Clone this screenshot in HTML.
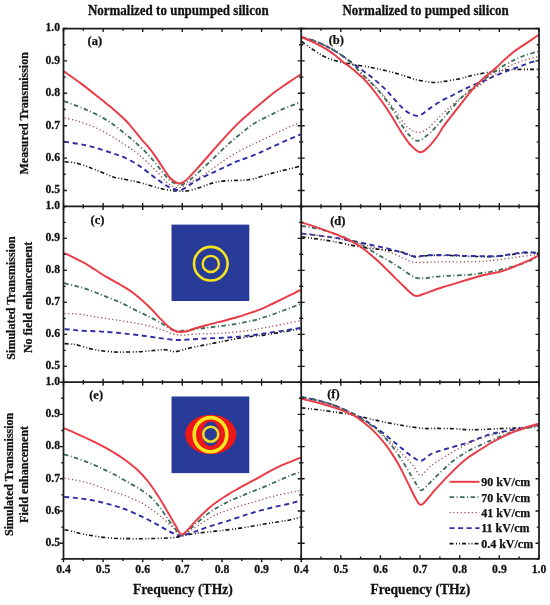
<!DOCTYPE html><html><head><meta charset="utf-8"><style>html,body{margin:0;padding:0;background:#fff;width:550px;height:605px;overflow:hidden}svg{display:block;filter:blur(0.45px)}text{font-family:"Liberation Serif",serif;font-weight:bold;fill:#111;stroke:#111;stroke-width:0.25px}</style></head><body>
<svg width="550" height="605" viewBox="0 0 550 605">
<defs>
<clipPath id="cpa"><rect x="63.5" y="28.5" width="237.7" height="177.9"/></clipPath>
<clipPath id="cpb"><rect x="301.2" y="28.5" width="237.8" height="177.9"/></clipPath>
<clipPath id="cpc"><rect x="63.5" y="206.4" width="237.7" height="175.79999999999998"/></clipPath>
<clipPath id="cpd"><rect x="301.2" y="206.4" width="237.8" height="175.79999999999998"/></clipPath>
<clipPath id="cpe"><rect x="63.5" y="382.2" width="237.7" height="176.59999999999997"/></clipPath>
<clipPath id="cpf"><rect x="301.2" y="382.2" width="237.8" height="176.59999999999997"/></clipPath>
</defs>
<rect x="171.5" y="224.6" width="77.8" height="76.4" fill="#283b98"/>
<circle cx="210.8" cy="263.7" r="16.8" fill="none" stroke="#f6e41e" stroke-width="2.6"/>
<circle cx="210.8" cy="263.9" r="8.1" fill="none" stroke="#f6e41e" stroke-width="2.3"/>
<rect x="171.5" y="396.5" width="77.8" height="76.6" fill="#283b98"/>
<ellipse cx="210.75" cy="434.5" rx="25.6" ry="19.7" fill="#ef1818"/>
<ellipse cx="210.5" cy="434.7" rx="16.3" ry="17.1" fill="none" stroke="#f8e61e" stroke-width="3.6"/>
<path d="M197.5,446 Q210.5,456.5 223.5,446" fill="none" stroke="#f8e61e" stroke-width="2.2"/>
<ellipse cx="210.7" cy="433.8" rx="8.6" ry="12.2" fill="#2b3a98"/>
<circle cx="210.7" cy="434.2" r="7.5" fill="none" stroke="#eee026" stroke-width="2.5"/>
<g clip-path="url(#cpa)" fill="none" stroke-linejoin="round">
<path d="M64.6,161.8 C66.3,162.0 71.5,162.1 75.1,162.9 C78.7,163.6 82.7,165.1 86.0,166.2 C89.3,167.3 90.2,167.8 94.7,169.5 C99.2,171.3 108.7,175.3 113.2,176.9 C117.8,178.4 118.2,178.0 122.0,178.8 C125.8,179.6 131.6,180.6 136.2,181.7 C140.8,182.7 144.8,184.1 149.3,185.3 C153.8,186.6 158.9,188.2 163.4,189.2 C167.9,190.1 172.3,190.8 176.5,191.0 C180.7,191.3 184.2,191.4 188.3,190.7 C192.5,190.0 197.2,188.2 201.4,186.9 C205.6,185.6 209.4,183.8 213.4,182.8 C217.4,181.7 220.2,181.3 225.3,180.9 C230.4,180.4 239.2,180.5 243.9,180.2 C248.6,179.8 249.8,179.6 253.6,178.7 C257.4,177.8 262.4,175.9 266.8,174.7 C271.2,173.4 275.7,172.3 279.9,171.2 C284.1,170.2 288.5,169.2 291.9,168.3 C295.3,167.4 299.1,166.4 300.5,166.0" stroke="#111111" stroke-width="1.6" stroke-dasharray="4 2.5 1 2 1 2"/>
<path d="M64.2,141.6 C66.6,142.0 74.6,143.2 78.4,143.9 C82.2,144.5 84.2,144.9 87.1,145.5 C90.0,146.2 92.7,146.8 95.8,147.7 C98.9,148.6 102.3,149.8 105.6,150.9 C108.9,152.0 112.3,153.1 115.4,154.2 C118.5,155.2 120.9,155.8 124.2,157.3 C127.5,158.8 131.8,161.2 135.1,163.1 C138.4,165.1 140.9,167.0 143.8,169.1 C146.7,171.2 149.8,173.8 152.5,175.8 C155.2,177.9 157.6,179.7 160.2,181.4 C162.8,183.2 165.1,185.0 167.8,186.4 C170.5,187.8 174.1,189.3 176.5,189.8 C178.9,190.3 179.8,190.4 182.0,189.6 C184.2,188.8 186.7,186.7 189.4,185.1 C192.1,183.4 194.3,181.8 198.1,179.7 C201.9,177.7 207.8,175.0 212.3,172.9 C216.8,170.7 221.1,168.8 225.3,166.8 C229.5,164.9 234.0,162.6 237.3,161.2 C240.6,159.8 241.5,159.8 245.0,158.5 C248.5,157.2 253.6,155.3 258.1,153.4 C262.7,151.4 267.2,149.1 272.3,146.8 C277.4,144.5 283.9,141.6 288.6,139.5 C293.3,137.5 298.5,135.3 300.5,134.5" stroke="#2e2ea6" stroke-width="1.9" stroke-dasharray="5 3.6"/>
<path d="M64.6,118.0 C66.5,118.4 72.5,119.6 76.2,120.7 C80.0,121.7 83.5,122.9 87.1,124.3 C90.7,125.6 94.4,127.1 98.0,128.8 C101.6,130.5 105.3,132.5 108.9,134.6 C112.5,136.7 115.4,138.5 119.8,141.3 C124.2,144.2 130.9,148.7 135.1,151.8 C139.3,154.9 142.0,157.3 144.9,159.9 C147.8,162.5 150.1,164.9 152.5,167.3 C154.9,169.6 156.9,171.7 159.1,174.0 C161.3,176.3 163.4,179.0 165.6,181.0 C167.8,183.0 169.9,184.9 172.2,186.0 C174.5,187.1 177.2,187.8 179.5,187.6 C181.8,187.3 182.2,186.5 186.0,184.5 C189.8,182.5 198.0,178.3 202.4,175.7 C206.8,173.2 208.7,171.5 212.3,169.0 C215.9,166.5 219.9,163.2 223.8,160.6 C227.7,157.9 231.6,155.6 235.8,153.2 C240.0,150.8 245.6,147.9 248.9,146.1 C252.2,144.4 252.9,144.2 255.9,142.8 C258.9,141.4 263.2,139.5 266.8,137.8 C270.4,136.1 274.1,134.2 277.7,132.4 C281.3,130.7 284.8,128.9 288.6,127.2 C292.4,125.5 298.5,123.1 300.5,122.3" stroke="#9a4a46" stroke-width="1.3" stroke-dasharray="1.2 2.5"/>
<path d="M64.0,101.2 C67.0,102.3 77.6,106.1 81.8,107.8 C86.0,109.4 85.7,109.4 89.3,111.1 C92.9,112.8 99.1,115.6 103.4,118.1 C107.8,120.6 111.6,123.3 115.4,126.1 C119.2,128.8 122.9,132.1 126.0,134.6 C129.1,137.1 131.0,138.6 134.0,141.2 C137.0,143.8 140.5,146.9 143.8,150.2 C147.1,153.5 150.7,157.6 153.6,160.9 C156.5,164.3 158.8,167.5 161.3,170.5 C163.9,173.6 166.4,177.1 168.9,179.4 C171.4,181.7 174.5,183.3 176.5,184.3 C178.5,185.3 178.8,186.0 181.0,185.3 C183.2,184.6 186.0,182.9 189.4,180.3 C192.8,177.8 197.7,173.1 201.4,169.7 C205.1,166.3 208.4,163.2 211.8,160.0 C215.2,156.8 218.3,153.5 221.6,150.4 C224.9,147.3 228.1,144.2 231.4,141.4 C234.7,138.5 238.0,135.9 241.3,133.2 C244.7,130.5 248.2,127.4 251.5,125.1 C254.8,122.8 257.9,121.3 261.4,119.5 C264.9,117.7 268.7,115.8 272.3,114.1 C275.9,112.3 278.5,110.9 283.2,108.9 C287.9,106.9 297.6,103.3 300.5,102.2" stroke="#3a6c56" stroke-width="1.8" stroke-dasharray="4.5 2.5 1 2.5"/>
<path d="M64.0,71.4 C67.0,73.5 75.5,79.4 81.8,84.1 C88.1,88.9 96.7,95.8 101.7,99.7 C106.7,103.7 107.9,104.6 111.7,107.8 C115.5,111.1 121.2,116.0 124.5,119.3 C127.8,122.5 129.0,123.9 131.8,127.3 C134.7,130.6 138.7,136.0 141.6,139.5 C144.5,143.0 146.8,145.0 149.3,148.2 C151.9,151.4 154.6,155.2 156.9,158.6 C159.2,162.0 161.4,165.5 163.4,168.5 C165.4,171.4 167.1,174.3 168.9,176.5 C170.7,178.6 172.5,180.2 174.3,181.4 C176.1,182.6 178.0,183.5 179.8,183.5 C181.6,183.4 182.2,183.5 185.0,181.1 C187.8,178.8 192.0,174.2 196.5,169.3 C201.0,164.5 206.5,158.0 211.8,152.0 C217.1,146.1 223.6,138.5 228.2,133.6 C232.8,128.7 235.6,125.8 239.1,122.4 C242.6,119.0 246.6,115.7 249.4,113.2 C252.2,110.8 252.1,110.8 255.9,107.6 C259.7,104.3 266.9,98.1 272.3,93.9 C277.8,89.7 283.9,85.7 288.6,82.4 C293.3,79.2 298.5,75.8 300.5,74.5" stroke="#ec3a45" stroke-width="1.95"/>
</g>
<g clip-path="url(#cpb)" fill="none" stroke-linejoin="round">
<path d="M301.6,41.5 C303.2,42.6 307.5,45.9 310.9,48.2 C314.3,50.4 318.2,53.3 321.8,55.2 C325.4,57.2 329.1,58.7 332.7,59.9 C336.3,61.1 340.0,61.9 343.6,62.7 C347.2,63.5 349.9,63.8 354.5,64.6 C359.1,65.4 366.4,66.6 371.4,67.5 C376.4,68.5 379.9,69.2 384.4,70.3 C388.9,71.4 394.4,72.9 398.6,74.1 C402.8,75.3 406.8,76.6 409.5,77.5 C412.2,78.4 412.3,78.8 415.0,79.5 C417.7,80.1 422.6,81.0 425.9,81.5 C429.2,82.0 431.5,82.5 434.6,82.5 C437.7,82.5 440.4,82.0 444.4,81.4 C448.4,80.8 454.3,79.9 458.6,79.0 C462.9,78.1 466.0,76.9 470.0,76.0 C474.0,75.0 478.4,74.1 482.7,73.3 C486.9,72.5 491.2,71.9 495.5,71.3 C499.8,70.7 504.0,70.0 508.2,69.7 C512.4,69.4 515.9,69.5 520.9,69.4 C525.9,69.3 535.6,69.4 538.5,69.4" stroke="#111111" stroke-width="1.6" stroke-dasharray="4 2.5 1 2 1 2"/>
<path d="M301.6,37.5 C303.2,37.9 307.5,38.7 310.9,39.8 C314.3,40.9 318.2,42.4 321.8,44.0 C325.4,45.6 329.1,47.5 332.7,49.6 C336.3,51.7 340.3,54.3 343.6,56.6 C346.9,58.8 349.5,60.9 352.3,63.0 C355.1,65.1 357.7,67.0 360.5,69.0 C363.3,71.1 366.3,73.1 369.2,75.3 C372.1,77.5 375.0,79.8 377.9,82.4 C380.8,84.9 384.0,87.9 386.6,90.6 C389.2,93.3 391.2,95.8 393.7,98.5 C396.1,101.2 398.6,104.3 401.3,106.8 C404.0,109.4 407.2,112.2 410.1,113.7 C413.0,115.1 416.1,116.2 418.8,115.8 C421.5,115.3 423.7,112.7 426.4,110.8 C429.1,109.0 432.2,106.6 435.2,104.6 C438.2,102.7 441.4,100.9 444.4,99.2 C447.4,97.6 450.3,96.5 453.2,95.0 C456.1,93.5 459.1,91.8 461.9,90.4 C464.7,89.0 466.1,88.3 470.0,86.6 C473.9,84.9 481.1,82.0 485.3,80.1 C489.6,78.3 492.1,77.1 495.5,75.7 C498.9,74.3 501.4,73.1 505.6,71.5 C509.8,69.9 517.1,67.4 520.9,66.0 C524.7,64.7 525.6,64.2 528.5,63.2 C531.4,62.2 536.8,60.7 538.5,60.2" stroke="#2e2ea6" stroke-width="1.9" stroke-dasharray="5 3.6"/>
<path d="M301.6,37.0 C303.2,37.5 307.5,38.6 310.9,39.7 C314.3,40.9 318.2,42.4 321.8,44.0 C325.4,45.7 329.1,47.5 332.7,49.6 C336.3,51.7 340.3,54.3 343.6,56.7 C346.9,59.0 349.3,61.1 352.3,63.9 C355.3,66.6 358.1,69.9 361.5,73.2 C364.9,76.4 368.9,80.1 372.4,83.5 C375.9,87.0 378.4,89.3 382.3,94.0 C386.2,98.7 392.2,106.5 395.9,111.6 C399.6,116.6 402.1,121.0 404.6,124.0 C407.2,127.1 408.8,128.4 411.2,129.8 C413.6,131.3 416.3,132.5 418.8,132.5 C421.3,132.4 424.0,131.0 426.4,129.5 C428.8,128.0 430.4,126.0 433.0,123.5 C435.6,121.0 437.2,119.0 441.7,114.8 C446.2,110.6 453.8,103.2 460.0,98.3 C466.2,93.5 473.0,89.9 478.9,85.9 C484.8,81.8 490.6,77.4 495.5,74.2 C500.4,71.0 504.0,68.8 508.2,66.6 C512.4,64.5 515.9,63.2 520.9,61.4 C525.9,59.7 535.6,57.2 538.5,56.3" stroke="#9a4a46" stroke-width="1.3" stroke-dasharray="1.2 2.5"/>
<path d="M301.6,37.0 C303.2,37.5 307.5,38.6 310.9,39.7 C314.3,40.9 318.2,42.4 321.8,44.0 C325.4,45.7 329.1,47.5 332.7,49.6 C336.3,51.7 340.3,54.3 343.6,56.7 C346.9,59.1 349.3,61.1 352.3,63.9 C355.3,66.8 358.1,70.2 361.5,73.6 C364.9,76.9 368.9,80.6 372.4,84.2 C375.9,87.8 379.2,91.3 382.3,95.2 C385.4,99.0 388.7,103.8 391.0,107.1 C393.3,110.5 394.0,112.1 395.9,115.2 C397.8,118.4 400.2,122.7 402.4,126.0 C404.6,129.3 406.4,132.4 409.0,134.9 C411.6,137.3 414.4,140.9 417.7,140.8 C421.0,140.7 425.2,136.8 428.6,134.1 C432.1,131.3 433.8,129.3 438.4,124.1 C443.0,118.9 451.8,108.1 456.4,103.0 C461.0,97.8 463.4,95.9 466.3,93.3 C469.2,90.7 469.9,90.4 473.9,87.4 C477.8,84.4 485.4,78.5 490.0,75.1 C494.6,71.6 497.7,69.2 501.8,66.7 C505.9,64.2 510.5,61.9 514.5,59.9 C518.5,58.0 522.0,56.5 526.0,55.0 C530.0,53.6 536.4,51.8 538.5,51.2" stroke="#3a6c56" stroke-width="1.8" stroke-dasharray="4.5 2.5 1 2.5"/>
<path d="M301.6,37.0 C303.2,37.7 307.5,39.6 310.9,41.2 C314.3,42.8 318.7,45.0 321.8,46.6 C324.9,48.3 327.0,49.5 329.4,51.1 C331.8,52.7 334.0,54.4 336.0,56.0 C338.0,57.6 339.2,58.9 341.4,60.7 C343.6,62.4 346.1,64.0 349.1,66.3 C352.1,68.7 356.6,72.4 359.4,74.9 C362.2,77.4 363.0,77.8 365.9,81.1 C368.8,84.3 373.4,89.9 376.8,94.5 C380.2,99.0 383.8,104.1 386.6,108.3 C389.4,112.5 391.1,115.4 393.7,119.6 C396.3,123.8 399.7,129.5 402.4,133.7 C405.1,137.9 407.2,141.4 410.1,144.5 C413.0,147.6 416.8,151.9 419.9,152.3 C423.0,152.7 425.7,149.6 428.6,146.9 C431.5,144.3 434.7,139.9 437.3,136.3 C439.9,132.7 440.5,130.5 444.4,125.1 C448.3,119.8 455.8,110.4 460.8,104.1 C465.8,97.7 470.8,91.3 474.4,87.2 C478.0,83.0 479.2,82.2 482.7,79.1 C486.2,75.9 491.7,71.7 495.5,68.3 C499.3,64.9 502.4,61.6 505.6,58.8 C508.8,55.9 511.3,53.7 514.5,51.3 C517.7,48.9 520.7,47.1 524.7,44.4 C528.7,41.7 536.2,36.6 538.5,35.0" stroke="#ec3a45" stroke-width="1.95"/>
</g>
<g clip-path="url(#cpc)" fill="none" stroke-linejoin="round">
<path d="M64.6,343.6 C66.0,343.7 70.6,343.9 72.9,344.2 C75.2,344.4 75.7,344.6 78.4,345.3 C81.1,346.1 85.7,347.5 89.3,348.4 C92.9,349.2 96.0,350.0 100.2,350.6 C104.4,351.3 110.5,351.8 114.3,352.0 C118.1,352.3 118.8,352.1 122.9,352.1 C127.0,352.0 133.8,352.0 138.9,351.7 C144.0,351.5 149.1,350.9 153.5,350.5 C157.9,350.2 161.5,349.5 165.1,349.7 C168.7,349.9 171.7,351.9 175.3,351.7 C178.9,351.5 183.0,349.6 186.9,348.6 C190.8,347.7 194.7,347.0 198.5,346.2 C202.3,345.4 205.2,344.9 209.5,344.0 C213.8,343.2 219.2,342.0 224.1,341.1 C228.9,340.2 233.8,339.1 238.6,338.3 C243.4,337.5 249.0,336.7 253.2,336.2 C257.4,335.6 259.8,335.6 263.9,335.1 C268.0,334.5 271.6,334.0 277.7,332.9 C283.8,331.9 296.7,329.4 300.5,328.7" stroke="#111111" stroke-width="1.6" stroke-dasharray="4 2.5 1 2 1 2"/>
<path d="M64.6,329.2 C66.0,329.3 70.1,329.6 72.9,329.8 C75.7,330.1 77.2,330.5 81.6,330.8 C86.0,331.0 94.7,331.1 99.1,331.4 C103.5,331.6 104.9,331.8 107.8,332.0 C110.7,332.3 113.7,332.4 116.5,332.6 C119.3,332.9 120.2,333.1 124.4,333.6 C128.6,334.1 136.0,334.8 141.8,335.5 C147.6,336.3 153.7,337.4 159.3,338.1 C164.9,338.8 170.7,339.7 175.3,339.9 C179.9,340.2 183.0,339.8 186.9,339.6 C190.8,339.4 194.7,339.1 198.5,338.9 C202.3,338.7 205.2,338.5 209.5,338.3 C213.8,338.1 219.2,338.0 224.1,337.7 C228.9,337.5 233.8,337.1 238.6,336.7 C243.4,336.2 248.4,335.7 253.2,335.1 C258.0,334.5 261.7,333.9 267.3,333.0 C272.9,332.2 281.5,330.9 287.0,330.1 C292.5,329.2 298.2,328.3 300.5,328.0" stroke="#2e2ea6" stroke-width="1.9" stroke-dasharray="5 3.6"/>
<path d="M64.6,313.6 C66.7,313.7 73.5,313.6 77.3,313.9 C81.0,314.2 84.2,314.9 87.1,315.4 C90.0,315.8 92.0,316.3 94.7,316.8 C97.4,317.2 100.3,317.6 103.4,318.1 C106.5,318.5 110.3,319.1 113.3,319.6 C116.3,320.0 118.0,320.2 121.5,320.8 C125.0,321.3 129.9,322.1 134.5,323.0 C139.1,323.8 144.5,324.8 149.1,326.0 C153.7,327.2 158.3,328.6 162.2,329.9 C166.1,331.2 169.0,332.9 172.4,333.8 C175.8,334.6 178.7,335.1 182.5,335.2 C186.3,335.2 190.5,334.3 195.0,334.1 C199.5,333.8 204.7,333.9 209.5,333.7 C214.3,333.5 219.2,333.3 224.1,333.0 C228.9,332.6 233.8,332.1 238.6,331.6 C243.4,331.1 249.0,330.5 253.2,329.9 C257.4,329.3 259.8,328.7 263.9,327.9 C268.0,327.2 271.6,326.6 277.7,325.4 C283.8,324.1 296.7,321.4 300.5,320.6" stroke="#9a4a46" stroke-width="1.3" stroke-dasharray="1.2 2.5"/>
<path d="M64.2,283.2 C66.0,283.6 71.5,285.0 75.1,285.9 C78.7,286.8 82.4,287.7 86.0,288.9 C89.6,290.1 93.3,291.6 96.9,293.0 C100.5,294.4 104.2,295.9 107.8,297.3 C111.4,298.8 116.2,300.7 118.7,301.7 C121.2,302.8 119.8,302.1 122.9,303.6 C126.0,305.2 132.9,308.8 137.5,311.1 C142.1,313.4 146.4,315.2 150.5,317.3 C154.6,319.5 158.8,321.9 162.2,323.8 C165.6,325.8 168.5,327.8 170.9,329.1 C173.3,330.4 174.0,331.2 176.7,331.4 C179.4,331.6 183.0,330.7 186.9,330.2 C190.8,329.8 196.2,329.1 200.0,328.6 C203.8,328.2 205.5,327.9 209.5,327.4 C213.5,326.9 219.2,326.3 224.1,325.7 C228.9,325.0 233.8,324.3 238.6,323.5 C243.4,322.6 249.4,321.4 253.2,320.5 C257.0,319.6 258.3,319.1 261.6,318.0 C264.9,317.0 269.2,315.7 273.1,314.3 C277.0,313.0 280.1,311.7 284.7,310.0 C289.3,308.2 297.9,305.0 300.5,304.0" stroke="#3a6c56" stroke-width="1.8" stroke-dasharray="4.5 2.5 1 2.5"/>
<path d="M64.2,253.2 C65.7,253.8 69.6,255.5 72.9,257.1 C76.2,258.7 80.2,260.6 83.8,262.7 C87.4,264.8 91.1,267.2 94.7,269.5 C98.3,271.8 102.0,274.2 105.6,276.4 C109.2,278.6 114.1,281.2 116.5,282.6 C118.9,283.9 117.0,282.6 120.0,284.5 C123.0,286.4 129.7,290.2 134.5,293.9 C139.3,297.6 144.7,302.5 149.1,306.7 C153.5,310.9 157.3,315.6 160.7,319.1 C164.1,322.5 166.8,325.4 169.5,327.5 C172.2,329.6 174.0,330.8 176.7,331.5 C179.4,332.2 182.3,332.0 185.5,331.5 C188.7,331.0 191.6,329.5 195.6,328.3 C199.6,327.1 204.8,325.7 209.5,324.4 C214.2,323.1 219.2,322.0 224.1,320.7 C228.9,319.5 233.8,318.3 238.6,316.8 C243.4,315.4 249.1,313.4 253.2,312.0 C257.3,310.5 260.1,309.5 263.4,308.1 C266.7,306.7 269.2,305.4 273.1,303.5 C277.0,301.6 282.4,298.9 287.0,296.6 C291.6,294.4 298.2,291.1 300.5,290.0" stroke="#ec3a45" stroke-width="1.95"/>
</g>
<g clip-path="url(#cpd)" fill="none" stroke-linejoin="round">
<path d="M301.6,236.8 C305.6,237.4 319.4,239.2 325.5,240.2 C331.6,241.1 333.5,241.6 338.2,242.5 C342.9,243.4 349.0,244.8 353.5,245.6 C358.0,246.5 361.0,247.1 365.0,247.6 C369.0,248.2 373.4,248.6 377.7,249.1 C381.9,249.6 386.2,249.8 390.5,250.4 C394.8,250.9 399.0,251.3 403.2,252.4 C407.4,253.5 411.7,256.5 415.9,257.0 C420.1,257.5 422.0,255.7 428.6,255.5 C435.2,255.3 448.9,255.5 455.5,255.7 C462.1,255.8 462.4,256.2 468.2,256.3 C473.9,256.5 484.7,256.7 490.0,256.6 C495.3,256.6 495.8,256.5 500.0,256.1 C504.2,255.7 510.5,254.6 515.0,254.1 C519.5,253.5 523.1,253.0 527.0,252.8 C530.9,252.7 536.6,253.0 538.5,253.0" stroke="#111111" stroke-width="1.6" stroke-dasharray="4 2.5 1 2 1 2"/>
<path d="M301.6,233.6 C304.5,233.9 313.0,234.8 319.1,235.6 C325.2,236.4 331.2,237.1 338.2,238.3 C345.2,239.5 354.5,241.3 361.1,242.7 C367.7,244.0 372.8,245.3 377.7,246.4 C382.6,247.5 386.2,248.2 390.5,249.3 C394.8,250.4 399.4,251.9 403.2,253.0 C407.0,254.2 409.8,256.0 413.4,256.4 C417.0,256.9 421.3,255.8 424.8,255.6 C428.3,255.3 429.3,255.1 434.4,255.0 C439.5,255.0 449.9,255.1 455.5,255.3 C461.1,255.4 462.4,255.7 468.2,255.9 C473.9,256.0 484.7,256.3 490.0,256.3 C495.3,256.3 495.8,256.2 500.0,255.8 C504.2,255.3 510.5,254.2 515.0,253.6 C519.5,253.0 523.1,252.2 527.0,252.1 C530.9,252.0 536.6,252.9 538.5,253.0" stroke="#2e2ea6" stroke-width="1.9" stroke-dasharray="5 3.6"/>
<path d="M301.6,233.0 C304.5,233.4 313.0,234.5 319.1,235.5 C325.2,236.4 330.6,237.0 338.2,238.6 C345.8,240.2 358.4,243.4 365.0,245.1 C371.6,246.7 373.4,247.3 377.7,248.5 C381.9,249.8 386.2,251.0 390.5,252.5 C394.8,254.1 399.6,256.3 403.2,257.8 C406.8,259.4 408.9,261.2 412.1,261.9 C415.3,262.7 418.6,262.5 422.3,262.5 C426.0,262.5 428.9,262.1 434.4,262.0 C439.9,261.9 447.8,262.0 455.5,261.9 C463.2,261.8 475.1,261.6 480.9,261.4 C486.6,261.2 486.0,261.0 490.0,260.6 C494.0,260.1 500.0,259.5 505.0,258.8 C510.0,258.2 514.4,257.4 520.0,256.7 C525.6,255.9 535.4,254.9 538.5,254.5" stroke="#9a4a46" stroke-width="1.3" stroke-dasharray="1.2 2.5"/>
<path d="M301.6,226.0 C304.5,226.5 313.0,227.6 319.1,229.1 C325.2,230.6 332.3,233.0 338.2,235.1 C344.1,237.1 350.2,239.6 354.7,241.6 C359.2,243.5 361.2,244.6 365.0,246.8 C368.8,249.0 373.4,252.0 377.7,254.6 C381.9,257.1 386.2,259.4 390.5,261.9 C394.8,264.5 399.2,267.4 403.2,270.0 C407.2,272.5 411.0,276.0 414.6,277.3 C418.2,278.7 421.5,278.2 424.8,278.2 C428.1,278.1 430.3,277.2 434.4,276.8 C438.4,276.4 443.5,276.1 449.1,275.8 C454.7,275.4 462.9,275.2 468.2,274.8 C473.5,274.4 477.3,273.7 480.9,273.2 C484.5,272.7 486.8,272.4 490.0,271.9 C493.2,271.3 496.7,270.7 500.0,269.9 C503.3,269.2 506.7,268.3 510.0,267.4 C513.3,266.5 516.7,265.5 520.0,264.4 C523.3,263.3 526.9,262.0 530.0,260.6 C533.1,259.2 537.1,256.8 538.5,256.0" stroke="#3a6c56" stroke-width="1.8" stroke-dasharray="4.5 2.5 1 2.5"/>
<path d="M301.6,222.5 C304.5,223.4 313.0,226.0 319.1,228.1 C325.2,230.2 332.5,232.8 338.2,235.2 C343.9,237.6 349.0,239.9 353.5,242.4 C358.0,244.9 361.0,247.0 365.0,250.1 C369.0,253.1 373.4,257.0 377.7,260.8 C381.9,264.7 386.2,269.1 390.5,273.3 C394.8,277.5 399.2,282.1 403.2,285.8 C407.2,289.5 411.2,294.3 414.6,295.6 C418.0,297.0 420.2,294.9 423.5,294.0 C426.8,293.0 431.2,291.1 434.4,290.0 C437.6,288.8 439.2,288.3 442.7,287.2 C446.2,286.1 451.2,284.7 455.5,283.4 C459.8,282.1 464.0,280.8 468.2,279.5 C472.4,278.3 477.3,276.8 480.9,275.8 C484.5,274.8 486.8,274.4 490.0,273.7 C493.2,273.0 496.7,272.7 500.0,271.8 C503.3,271.0 506.7,269.7 510.0,268.4 C513.3,267.1 516.7,265.5 520.0,264.1 C523.3,262.7 526.9,261.2 530.0,259.8 C533.1,258.4 537.1,256.2 538.5,255.5" stroke="#ec3a45" stroke-width="1.95"/>
</g>
<g clip-path="url(#cpe)" fill="none" stroke-linejoin="round">
<path d="M64.6,529.7 C66.0,530.0 70.8,531.0 72.9,531.5 C75.0,532.0 74.6,532.2 77.3,532.8 C80.0,533.4 85.3,534.5 89.3,535.2 C93.3,535.9 97.1,536.6 101.3,537.1 C105.5,537.6 110.3,538.0 114.3,538.3 C118.2,538.5 119.3,538.6 125.0,538.6 C130.7,538.7 140.7,538.8 148.5,538.6 C156.3,538.5 166.4,538.2 172.1,537.7 C177.8,537.3 178.5,536.7 182.4,536.0 C186.3,535.3 190.9,534.2 195.7,533.5 C200.5,532.7 206.2,532.2 211.4,531.6 C216.6,531.0 220.8,530.8 227.1,529.9 C233.4,529.1 243.3,527.7 249.5,526.7 C255.7,525.7 259.4,524.9 264.4,524.0 C269.3,523.2 275.0,522.4 279.2,521.7 C283.4,521.0 286.1,520.7 289.7,520.0 C293.3,519.2 298.9,517.7 300.8,517.2" stroke="#111111" stroke-width="1.6" stroke-dasharray="4 2.5 1 2 1 2"/>
<path d="M64.2,497.0 C65.7,497.1 70.0,497.3 72.9,497.6 C75.8,497.9 78.7,498.2 81.6,498.6 C84.5,499.1 87.5,499.5 90.4,500.0 C93.3,500.5 96.2,501.1 99.1,501.7 C102.0,502.3 104.9,503.1 107.8,503.9 C110.7,504.6 113.6,505.4 116.5,506.3 C119.4,507.2 121.0,507.5 125.0,509.2 C129.0,510.8 135.5,513.6 140.7,516.1 C145.9,518.5 151.7,521.6 156.4,524.1 C161.1,526.6 165.3,529.4 169.0,531.2 C172.7,533.1 176.2,534.6 178.4,535.3 C180.6,536.0 179.5,536.2 182.4,535.5 C185.3,534.9 190.9,533.0 195.7,531.4 C200.5,529.7 206.2,527.5 211.4,525.8 C216.6,524.1 221.5,522.9 227.1,521.1 C232.7,519.3 239.5,516.9 245.0,515.2 C250.5,513.4 254.9,512.0 259.9,510.6 C264.9,509.3 269.8,508.1 274.8,506.9 C279.8,505.7 285.4,504.7 289.7,503.6 C294.0,502.5 298.9,501.0 300.8,500.5" stroke="#2e2ea6" stroke-width="1.9" stroke-dasharray="5 3.6"/>
<path d="M64.6,478.2 C67.3,478.7 76.2,480.2 81.1,481.3 C86.0,482.4 89.7,483.4 93.8,484.7 C97.9,486.0 101.8,487.9 105.6,489.2 C109.4,490.5 113.3,491.6 116.5,492.7 C119.7,493.8 121.0,494.0 125.0,495.6 C129.0,497.2 136.0,500.0 140.7,502.5 C145.4,505.0 149.4,507.8 153.3,510.6 C157.2,513.5 160.8,516.5 164.2,519.4 C167.6,522.4 170.7,525.7 173.7,528.2 C176.7,530.8 176.1,536.5 182.4,534.6 C188.7,532.7 204.0,521.1 211.4,517.1 C218.8,513.0 221.9,512.4 227.1,510.4 C232.3,508.4 239.0,506.3 242.8,505.1 C246.6,503.9 247.2,504.0 250.0,503.2 C252.8,502.4 255.8,501.4 259.9,500.2 C264.0,498.9 269.8,497.1 274.8,495.9 C279.8,494.6 285.4,493.5 289.7,492.6 C294.0,491.7 298.9,490.8 300.8,490.4" stroke="#9a4a46" stroke-width="1.3" stroke-dasharray="1.2 2.5"/>
<path d="M64.0,454.4 C65.8,454.9 70.8,456.3 74.7,457.6 C78.6,458.9 83.2,460.5 87.5,462.2 C91.8,463.9 96.0,465.8 100.2,467.7 C104.4,469.6 108.8,471.6 112.9,473.8 C117.0,475.9 120.9,478.1 125.0,480.5 C129.1,482.8 133.4,485.1 137.6,487.8 C141.8,490.5 146.4,493.3 150.1,496.5 C153.8,499.7 156.3,503.0 159.5,507.0 C162.7,511.0 166.1,516.5 169.0,520.5 C171.9,524.5 174.6,528.4 176.8,530.8 C179.0,533.2 179.2,536.1 182.4,535.0 C185.6,533.8 190.9,527.8 195.7,523.9 C200.5,519.9 206.2,514.9 211.4,511.2 C216.6,507.6 221.9,504.8 227.1,502.2 C232.3,499.6 239.0,497.1 242.8,495.4 C246.6,493.8 247.2,493.6 250.0,492.5 C252.8,491.4 255.8,490.4 259.9,488.7 C264.0,487.0 269.8,484.4 274.8,482.2 C279.8,480.0 285.4,477.5 289.7,475.8 C294.0,474.0 298.9,472.5 300.8,471.8" stroke="#3a6c56" stroke-width="1.8" stroke-dasharray="4.5 2.5 1 2.5"/>
<path d="M64.0,428.2 C65.8,429.0 70.8,431.0 74.7,432.8 C78.6,434.5 83.2,436.6 87.5,438.6 C91.8,440.6 96.0,442.7 100.2,444.9 C104.4,447.1 109.1,449.7 112.9,452.0 C116.7,454.2 119.0,455.5 123.1,458.5 C127.2,461.5 133.4,466.1 137.6,470.0 C141.8,473.9 145.1,477.7 148.5,482.0 C151.9,486.4 154.8,490.9 158.0,495.8 C161.2,500.7 164.5,506.6 167.4,511.4 C170.3,516.3 172.7,521.0 175.2,524.9 C177.7,528.7 179.0,535.1 182.4,534.4 C185.8,533.8 190.9,525.7 195.7,520.9 C200.5,516.2 205.9,510.4 211.4,506.0 C216.9,501.5 224.0,497.2 228.7,494.1 C233.4,491.1 236.1,489.8 239.7,487.8 C243.2,485.8 246.6,484.0 250.0,482.2 C253.4,480.4 255.8,479.1 259.9,476.8 C264.0,474.6 269.8,471.1 274.8,468.6 C279.8,466.2 285.4,463.9 289.7,462.1 C294.0,460.3 298.9,458.4 300.8,457.7" stroke="#ec3a45" stroke-width="1.95"/>
</g>
<g clip-path="url(#cpf)" fill="none" stroke-linejoin="round">
<path d="M301.6,407.9 C304.5,408.2 313.0,409.1 319.1,409.9 C325.2,410.7 332.5,411.6 338.2,412.5 C343.9,413.4 349.0,414.2 353.5,415.1 C358.0,416.0 359.8,416.6 365.0,417.7 C370.2,418.9 378.2,420.8 384.8,422.2 C391.4,423.5 398.3,424.7 404.6,425.8 C410.9,426.8 417.5,427.9 422.7,428.4 C427.9,428.8 430.9,428.4 435.7,428.4 C440.5,428.5 446.2,428.4 451.4,428.6 C456.6,428.8 462.3,429.5 467.1,429.6 C471.9,429.8 474.9,429.8 480.0,429.6 C485.1,429.5 491.8,429.0 497.7,428.7 C503.6,428.4 510.6,428.2 515.5,428.0 C520.4,427.8 523.5,427.6 527.3,427.4 C531.1,427.1 536.6,426.5 538.5,426.3" stroke="#111111" stroke-width="1.6" stroke-dasharray="4 2.5 1 2 1 2"/>
<path d="M301.6,397.1 C304.5,397.7 313.2,399.2 319.1,400.7 C325.0,402.3 331.2,404.2 336.9,406.4 C342.6,408.6 348.8,411.5 353.5,413.8 C358.2,416.1 360.3,417.3 365.0,420.3 C369.7,423.3 376.3,427.9 381.5,431.8 C386.7,435.8 392.2,440.5 396.3,443.8 C400.4,447.2 403.2,449.6 406.2,452.0 C409.2,454.4 412.0,456.7 414.5,458.2 C417.0,459.6 418.6,461.3 421.1,460.8 C423.6,460.3 426.9,456.5 429.3,455.1 C431.7,453.6 432.0,453.4 435.7,452.1 C439.4,450.8 446.2,448.9 451.4,447.3 C456.6,445.8 462.3,444.4 467.1,442.8 C471.9,441.3 475.9,439.4 480.0,437.9 C484.1,436.3 487.9,434.9 491.8,433.8 C495.7,432.8 499.7,432.3 503.6,431.5 C507.6,430.7 509.7,430.3 515.5,429.3 C521.3,428.2 534.7,425.8 538.5,425.1" stroke="#2e2ea6" stroke-width="1.9" stroke-dasharray="5 3.6"/>
<path d="M301.6,397.1 C304.5,397.7 313.2,399.2 319.1,400.7 C325.0,402.3 331.2,404.2 336.9,406.4 C342.6,408.6 349.6,412.0 353.5,414.0 C357.4,415.9 356.2,415.3 360.0,417.9 C363.8,420.4 371.0,424.7 376.5,429.2 C382.0,433.6 388.6,440.4 393.0,444.7 C397.4,448.9 399.6,451.2 402.9,454.6 C406.2,458.0 409.9,461.9 412.8,465.3 C415.7,468.8 418.0,474.9 420.5,475.5 C423.0,476.0 425.2,470.8 427.7,468.6 C430.2,466.4 431.8,465.0 435.7,462.4 C439.6,459.7 446.2,455.8 451.4,452.8 C456.6,449.8 461.9,446.8 467.1,444.3 C472.3,441.8 476.7,439.7 482.8,437.7 C488.9,435.7 498.2,433.7 503.6,432.4 C509.1,431.1 509.7,430.9 515.5,429.7 C521.3,428.5 534.7,426.0 538.5,425.3" stroke="#9a4a46" stroke-width="1.3" stroke-dasharray="1.2 2.5"/>
<path d="M301.6,397.1 C304.5,397.7 313.2,399.2 319.1,400.7 C325.0,402.3 331.2,404.2 336.9,406.4 C342.6,408.6 349.6,412.1 353.5,414.0 C357.4,416.0 356.2,415.6 360.0,418.1 C363.8,420.6 371.8,425.5 376.5,429.3 C381.2,433.1 384.2,436.5 388.1,441.1 C392.0,445.7 396.0,451.5 399.6,456.8 C403.2,462.0 406.6,468.1 409.5,472.8 C412.4,477.6 415.0,482.4 417.0,485.3 C419.0,488.2 419.2,490.6 421.3,490.3 C423.4,490.0 426.9,485.6 429.3,483.4 C431.7,481.2 432.0,480.5 435.7,477.0 C439.4,473.5 446.2,466.5 451.4,462.3 C456.6,458.0 461.9,454.7 467.1,451.6 C472.3,448.6 479.0,445.8 482.8,444.0 C486.6,442.2 486.5,442.4 490.0,440.9 C493.5,439.4 499.4,436.8 503.6,435.2 C507.9,433.5 509.7,432.5 515.5,430.9 C521.3,429.3 534.7,426.4 538.5,425.5" stroke="#3a6c56" stroke-width="1.8" stroke-dasharray="4.5 2.5 1 2.5"/>
<path d="M301.6,398.8 C304.5,399.5 313.0,401.3 319.1,403.0 C325.2,404.7 332.5,406.8 338.2,408.9 C343.9,410.9 349.9,413.6 353.5,415.4 C357.1,417.2 356.7,417.1 360.0,419.6 C363.3,422.2 368.8,426.3 373.2,430.6 C377.6,434.9 382.3,440.1 386.4,445.6 C390.5,451.1 394.4,457.4 398.0,463.6 C401.6,469.8 404.9,477.0 407.9,482.9 C410.9,488.9 413.9,495.7 416.1,499.3 C418.3,503.0 419.1,505.2 421.3,504.8 C423.5,504.4 426.9,499.3 429.3,496.7 C431.7,494.1 432.0,493.2 435.7,489.2 C439.4,485.1 446.2,477.7 451.4,472.6 C456.6,467.4 462.3,462.1 467.1,458.3 C471.9,454.5 475.9,452.4 480.0,449.7 C484.1,447.1 487.9,444.7 491.8,442.5 C495.7,440.3 499.7,438.3 503.6,436.4 C507.6,434.5 511.6,432.8 515.5,431.2 C519.5,429.6 523.5,428.3 527.3,427.0 C531.1,425.8 536.6,424.3 538.5,423.8" stroke="#ec3a45" stroke-width="1.95"/>
</g>
<line x1="63.5" y1="28.5" x2="539.0" y2="28.5" stroke="#1c1c1c" stroke-width="1.75" fill="none"/>
<line x1="63.5" y1="206.4" x2="539.0" y2="206.4" stroke="#1c1c1c" stroke-width="1.75" fill="none"/>
<line x1="63.5" y1="382.2" x2="539.0" y2="382.2" stroke="#1c1c1c" stroke-width="1.75" fill="none"/>
<line x1="63.5" y1="558.8" x2="539.0" y2="558.8" stroke="#1c1c1c" stroke-width="1.75" fill="none"/>
<line x1="63.5" y1="27.7" x2="63.5" y2="559.5999999999999" stroke="#1c1c1c" stroke-width="1.75" fill="none"/>
<line x1="301.2" y1="27.7" x2="301.2" y2="559.5999999999999" stroke="#1c1c1c" stroke-width="1.75" fill="none"/>
<line x1="539.0" y1="27.7" x2="539.0" y2="559.5999999999999" stroke="#1c1c1c" stroke-width="1.75" fill="none"/>



<path d="M63.5,28.5 v3.5 M83.3,28.5 v2.2 M103.1,28.5 v3.5 M122.9,28.5 v2.2 M142.7,28.5 v3.5 M162.5,28.5 v2.2 M182.3,28.5 v3.5 M202.2,28.5 v2.2 M222.0,28.5 v3.5 M241.8,28.5 v2.2 M261.6,28.5 v3.5 M281.4,28.5 v2.2 M301.2,28.5 v3.5 M63.5,206.4 v-3.5 M83.3,206.4 v-2.2 M103.1,206.4 v-3.5 M122.9,206.4 v-2.2 M142.7,206.4 v-3.5 M162.5,206.4 v-2.2 M182.3,206.4 v-3.5 M202.2,206.4 v-2.2 M222.0,206.4 v-3.5 M241.8,206.4 v-2.2 M261.6,206.4 v-3.5 M281.4,206.4 v-2.2 M301.2,206.4 v-3.5 M63.5,206.4 v3.5 M83.3,206.4 v2.2 M103.1,206.4 v3.5 M122.9,206.4 v2.2 M142.7,206.4 v3.5 M162.5,206.4 v2.2 M182.3,206.4 v3.5 M202.2,206.4 v2.2 M222.0,206.4 v3.5 M241.8,206.4 v2.2 M261.6,206.4 v3.5 M281.4,206.4 v2.2 M301.2,206.4 v3.5 M63.5,382.2 v-3.5 M83.3,382.2 v-2.2 M103.1,382.2 v-3.5 M122.9,382.2 v-2.2 M142.7,382.2 v-3.5 M162.5,382.2 v-2.2 M182.3,382.2 v-3.5 M202.2,382.2 v-2.2 M222.0,382.2 v-3.5 M241.8,382.2 v-2.2 M261.6,382.2 v-3.5 M281.4,382.2 v-2.2 M301.2,382.2 v-3.5 M63.5,382.2 v3.5 M83.3,382.2 v2.2 M103.1,382.2 v3.5 M122.9,382.2 v2.2 M142.7,382.2 v3.5 M162.5,382.2 v2.2 M182.3,382.2 v3.5 M202.2,382.2 v2.2 M222.0,382.2 v3.5 M241.8,382.2 v2.2 M261.6,382.2 v3.5 M281.4,382.2 v2.2 M301.2,382.2 v3.5 M63.5,558.8 v3.5 M83.3,558.8 v2.2 M103.1,558.8 v3.5 M122.9,558.8 v2.2 M142.7,558.8 v3.5 M162.5,558.8 v2.2 M182.3,558.8 v3.5 M202.2,558.8 v2.2 M222.0,558.8 v3.5 M241.8,558.8 v2.2 M261.6,558.8 v3.5 M281.4,558.8 v2.2 M301.2,558.8 v3.5 M301.2,28.5 v3.5 M321.0,28.5 v2.2 M340.8,28.5 v3.5 M360.6,28.5 v2.2 M380.4,28.5 v3.5 M400.2,28.5 v2.2 M420.0,28.5 v3.5 M439.9,28.5 v2.2 M459.7,28.5 v3.5 M479.5,28.5 v2.2 M499.3,28.5 v3.5 M519.1,28.5 v2.2 M538.9,28.5 v3.5 M301.2,206.4 v-3.5 M321.0,206.4 v-2.2 M340.8,206.4 v-3.5 M360.6,206.4 v-2.2 M380.4,206.4 v-3.5 M400.2,206.4 v-2.2 M420.0,206.4 v-3.5 M439.9,206.4 v-2.2 M459.7,206.4 v-3.5 M479.5,206.4 v-2.2 M499.3,206.4 v-3.5 M519.1,206.4 v-2.2 M538.9,206.4 v-3.5 M301.2,206.4 v3.5 M321.0,206.4 v2.2 M340.8,206.4 v3.5 M360.6,206.4 v2.2 M380.4,206.4 v3.5 M400.2,206.4 v2.2 M420.0,206.4 v3.5 M439.9,206.4 v2.2 M459.7,206.4 v3.5 M479.5,206.4 v2.2 M499.3,206.4 v3.5 M519.1,206.4 v2.2 M538.9,206.4 v3.5 M301.2,382.2 v-3.5 M321.0,382.2 v-2.2 M340.8,382.2 v-3.5 M360.6,382.2 v-2.2 M380.4,382.2 v-3.5 M400.2,382.2 v-2.2 M420.0,382.2 v-3.5 M439.9,382.2 v-2.2 M459.7,382.2 v-3.5 M479.5,382.2 v-2.2 M499.3,382.2 v-3.5 M519.1,382.2 v-2.2 M538.9,382.2 v-3.5 M301.2,382.2 v3.5 M321.0,382.2 v2.2 M340.8,382.2 v3.5 M360.6,382.2 v2.2 M380.4,382.2 v3.5 M400.2,382.2 v2.2 M420.0,382.2 v3.5 M439.9,382.2 v2.2 M459.7,382.2 v3.5 M479.5,382.2 v2.2 M499.3,382.2 v3.5 M519.1,382.2 v2.2 M538.9,382.2 v3.5 M301.2,558.8 v-3.5 M321.0,558.8 v-2.2 M340.8,558.8 v-3.5 M360.6,558.8 v-2.2 M380.4,558.8 v-3.5 M400.2,558.8 v-2.2 M420.0,558.8 v-3.5 M439.9,558.8 v-2.2 M459.7,558.8 v-3.5 M479.5,558.8 v-2.2 M499.3,558.8 v-3.5 M519.1,558.8 v-2.2 M538.9,558.8 v-3.5 M63.5,28.5 h3.5 M63.5,44.7 h2.2 M63.5,60.9 h3.5 M63.5,77.1 h2.2 M63.5,93.3 h3.5 M63.5,109.5 h2.2 M63.5,125.7 h3.5 M63.5,141.9 h2.2 M63.5,158.1 h3.5 M63.5,174.3 h2.2 M63.5,190.5 h3.5 M63.5,206.7 h2.2 M301.2,28.5 h-3.5 M301.2,44.7 h-2.2 M301.2,60.9 h-3.5 M301.2,77.1 h-2.2 M301.2,93.3 h-3.5 M301.2,109.5 h-2.2 M301.2,125.7 h-3.5 M301.2,141.9 h-2.2 M301.2,158.1 h-3.5 M301.2,174.3 h-2.2 M301.2,190.5 h-3.5 M301.2,206.7 h-2.2 M301.2,28.5 h3.5 M301.2,44.7 h2.2 M301.2,60.9 h3.5 M301.2,77.1 h2.2 M301.2,93.3 h3.5 M301.2,109.5 h2.2 M301.2,125.7 h3.5 M301.2,141.9 h2.2 M301.2,158.1 h3.5 M301.2,174.3 h2.2 M301.2,190.5 h3.5 M301.2,206.7 h2.2 M539.0,28.5 h-3.5 M539.0,44.7 h-2.2 M539.0,60.9 h-3.5 M539.0,77.1 h-2.2 M539.0,93.3 h-3.5 M539.0,109.5 h-2.2 M539.0,125.7 h-3.5 M539.0,141.9 h-2.2 M539.0,158.1 h-3.5 M539.0,174.3 h-2.2 M539.0,190.5 h-3.5 M539.0,206.7 h-2.2 M63.5,206.4 h3.5 M63.5,222.4 h2.2 M63.5,238.4 h3.5 M63.5,254.4 h2.2 M63.5,270.4 h3.5 M63.5,286.4 h2.2 M63.5,302.4 h3.5 M63.5,318.4 h2.2 M63.5,334.4 h3.5 M63.5,350.4 h2.2 M63.5,366.4 h3.5 M63.5,382.4 h2.2 M301.2,206.4 h-3.5 M301.2,222.4 h-2.2 M301.2,238.4 h-3.5 M301.2,254.4 h-2.2 M301.2,270.4 h-3.5 M301.2,286.4 h-2.2 M301.2,302.4 h-3.5 M301.2,318.4 h-2.2 M301.2,334.4 h-3.5 M301.2,350.4 h-2.2 M301.2,366.4 h-3.5 M301.2,382.4 h-2.2 M301.2,206.4 h3.5 M301.2,222.4 h2.2 M301.2,238.4 h3.5 M301.2,254.4 h2.2 M301.2,270.4 h3.5 M301.2,286.4 h2.2 M301.2,302.4 h3.5 M301.2,318.4 h2.2 M301.2,334.4 h3.5 M301.2,350.4 h2.2 M301.2,366.4 h3.5 M301.2,382.4 h2.2 M539.0,206.4 h-3.5 M539.0,222.4 h-2.2 M539.0,238.4 h-3.5 M539.0,254.4 h-2.2 M539.0,270.4 h-3.5 M539.0,286.4 h-2.2 M539.0,302.4 h-3.5 M539.0,318.4 h-2.2 M539.0,334.4 h-3.5 M539.0,350.4 h-2.2 M539.0,366.4 h-3.5 M539.0,382.4 h-2.2 M63.5,382.2 h-3.5 M63.5,398.3 h-2.2 M63.5,414.4 h-3.5 M63.5,430.5 h-2.2 M63.5,446.6 h-3.5 M63.5,462.7 h-2.2 M63.5,478.8 h-3.5 M63.5,494.9 h-2.2 M63.5,511.0 h-3.5 M63.5,527.1 h-2.2 M63.5,543.2 h-3.5 M63.5,559.3 h-2.2 M301.2,382.2 h-3.5 M301.2,398.3 h-2.2 M301.2,414.4 h-3.5 M301.2,430.5 h-2.2 M301.2,446.6 h-3.5 M301.2,462.7 h-2.2 M301.2,478.8 h-3.5 M301.2,494.9 h-2.2 M301.2,511.0 h-3.5 M301.2,527.1 h-2.2 M301.2,543.2 h-3.5 M301.2,559.3 h-2.2 M301.2,382.2 h3.5 M301.2,398.3 h2.2 M301.2,414.4 h3.5 M301.2,430.5 h2.2 M301.2,446.6 h3.5 M301.2,462.7 h2.2 M301.2,478.8 h3.5 M301.2,494.9 h2.2 M301.2,511.0 h3.5 M301.2,527.1 h2.2 M301.2,543.2 h3.5 M301.2,559.3 h2.2 M539.0,382.2 h-3.5 M539.0,398.3 h-2.2 M539.0,414.4 h-3.5 M539.0,430.5 h-2.2 M539.0,446.6 h-3.5 M539.0,462.7 h-2.2 M539.0,478.8 h-3.5 M539.0,494.9 h-2.2 M539.0,511.0 h-3.5 M539.0,527.1 h-2.2 M539.0,543.2 h-3.5 M539.0,559.3 h-2.2" stroke="#1a1a1a" stroke-width="1.4" fill="none"/>
<text transform="translate(60,31.3) scale(1,1.06)" font-size="11.7" text-anchor="end">1.0</text>
<text transform="translate(60,63.7) scale(1,1.06)" font-size="11.7" text-anchor="end">0.9</text>
<text transform="translate(60,96.1) scale(1,1.06)" font-size="11.7" text-anchor="end">0.8</text>
<text transform="translate(60,128.5) scale(1,1.06)" font-size="11.7" text-anchor="end">0.7</text>
<text transform="translate(60,160.9) scale(1,1.06)" font-size="11.7" text-anchor="end">0.6</text>
<text transform="translate(60,193.3) scale(1,1.06)" font-size="11.7" text-anchor="end">0.5</text>
<text transform="translate(60,209.2) scale(1,1.06)" font-size="11.7" text-anchor="end">1.0</text>
<text transform="translate(60,241.2) scale(1,1.06)" font-size="11.7" text-anchor="end">0.9</text>
<text transform="translate(60,273.2) scale(1,1.06)" font-size="11.7" text-anchor="end">0.8</text>
<text transform="translate(60,305.2) scale(1,1.06)" font-size="11.7" text-anchor="end">0.7</text>
<text transform="translate(60,337.2) scale(1,1.06)" font-size="11.7" text-anchor="end">0.6</text>
<text transform="translate(60,369.2) scale(1,1.06)" font-size="11.7" text-anchor="end">0.5</text>
<text transform="translate(60,385.0) scale(1,1.06)" font-size="11.7" text-anchor="end">1.0</text>
<text transform="translate(60,417.2) scale(1,1.06)" font-size="11.7" text-anchor="end">0.9</text>
<text transform="translate(60,449.4) scale(1,1.06)" font-size="11.7" text-anchor="end">0.8</text>
<text transform="translate(60,481.6) scale(1,1.06)" font-size="11.7" text-anchor="end">0.7</text>
<text transform="translate(60,513.8) scale(1,1.06)" font-size="11.7" text-anchor="end">0.6</text>
<text transform="translate(60,546.0) scale(1,1.06)" font-size="11.7" text-anchor="end">0.5</text>
<text transform="translate(63.5,572.9) scale(1,1.13)" font-size="11.8" text-anchor="middle">0.4</text>
<text transform="translate(103.1,572.9) scale(1,1.13)" font-size="11.8" text-anchor="middle">0.5</text>
<text transform="translate(142.7,572.9) scale(1,1.13)" font-size="11.8" text-anchor="middle">0.6</text>
<text transform="translate(182.3,572.9) scale(1,1.13)" font-size="11.8" text-anchor="middle">0.7</text>
<text transform="translate(222.0,572.9) scale(1,1.13)" font-size="11.8" text-anchor="middle">0.8</text>
<text transform="translate(261.6,572.9) scale(1,1.13)" font-size="11.8" text-anchor="middle">0.9</text>
<text transform="translate(301.2,572.9) scale(1,1.13)" font-size="11.8" text-anchor="middle">0.4</text>
<text transform="translate(340.8,572.9) scale(1,1.13)" font-size="11.8" text-anchor="middle">0.5</text>
<text transform="translate(380.5,572.9) scale(1,1.13)" font-size="11.8" text-anchor="middle">0.6</text>
<text transform="translate(420.1,572.9) scale(1,1.13)" font-size="11.8" text-anchor="middle">0.7</text>
<text transform="translate(459.7,572.9) scale(1,1.13)" font-size="11.8" text-anchor="middle">0.8</text>
<text transform="translate(499.4,572.9) scale(1,1.13)" font-size="11.8" text-anchor="middle">0.9</text>
<text transform="translate(539.0,572.9) scale(1,1.13)" font-size="11.8" text-anchor="middle">1.0</text>
<text transform="translate(178.3,14.5) scale(1,1.15)" font-size="13" text-anchor="middle">Normalized to unpumped silicon</text>
<text transform="translate(425.6,14.5) scale(1,1.15)" font-size="13" text-anchor="middle">Normalized to pumped silicon</text>
<text transform="translate(182.9,594.4) scale(1,1.08)" font-size="13.6" text-anchor="middle">Frequency (THz)</text>
<text transform="translate(420.3,594.4) scale(1,1.08)" font-size="13.6" text-anchor="middle">Frequency (THz)</text>
<text transform="translate(28.4,113.3) rotate(-90)" x="0" y="0" font-size="12" text-anchor="middle">Measured Transmission</text>
<text transform="translate(14.6,298.0) rotate(-90)" x="0" y="0" font-size="12" text-anchor="middle">Simulated Transmission</text>
<text transform="translate(32.0,297.4) rotate(-90)" x="0" y="0" font-size="12" text-anchor="middle">No field enhancement</text>
<text transform="translate(13.0,474.4) rotate(-90)" x="0" y="0" font-size="12" text-anchor="middle">Simulated Transmission</text>
<text transform="translate(28.2,474.4) rotate(-90)" x="0" y="0" font-size="12" text-anchor="middle">Field enhancement</text>
<text x="87.6" y="45.0" font-size="12.5">(a)</text>
<text x="328.7" y="43.5" font-size="12.5">(b)</text>
<text x="90.5" y="224.2" font-size="12.5">(c)</text>
<text x="330.2" y="225.4" font-size="12.5">(d)</text>
<text x="89.2" y="399.2" font-size="12.5">(e)</text>
<text x="327.2" y="398.4" font-size="12.5">(f)</text>
<line x1="449.5" y1="481.8" x2="479.5" y2="481.8" stroke="#ec3a45" stroke-width="1.95" fill="none"/>
<text x="481.2" y="486.1" font-size="12">90 kV/cm</text>
<line x1="449.5" y1="497.2" x2="479.5" y2="497.2" stroke="#3a6c56" stroke-width="1.8" stroke-dasharray="4.5 2.5 1 2.5" fill="none"/>
<text x="481.2" y="501.6" font-size="12">70 kV/cm</text>
<line x1="449.5" y1="512.7" x2="479.5" y2="512.7" stroke="#9a4a46" stroke-width="1.3" stroke-dasharray="1.2 2.5" fill="none"/>
<text x="481.2" y="517.0" font-size="12">41 kV/cm</text>
<line x1="449.5" y1="528.1" x2="479.5" y2="528.1" stroke="#2e2ea6" stroke-width="1.9" stroke-dasharray="5 3.6" fill="none"/>
<text x="481.2" y="532.4" font-size="12">11 kV/cm</text>
<line x1="449.5" y1="543.6" x2="479.5" y2="543.6" stroke="#111111" stroke-width="1.6" stroke-dasharray="4 2.5 1 2 1 2" fill="none"/>
<text x="481.2" y="547.9" font-size="12">0.4 kV/cm</text>
</svg></body></html>
